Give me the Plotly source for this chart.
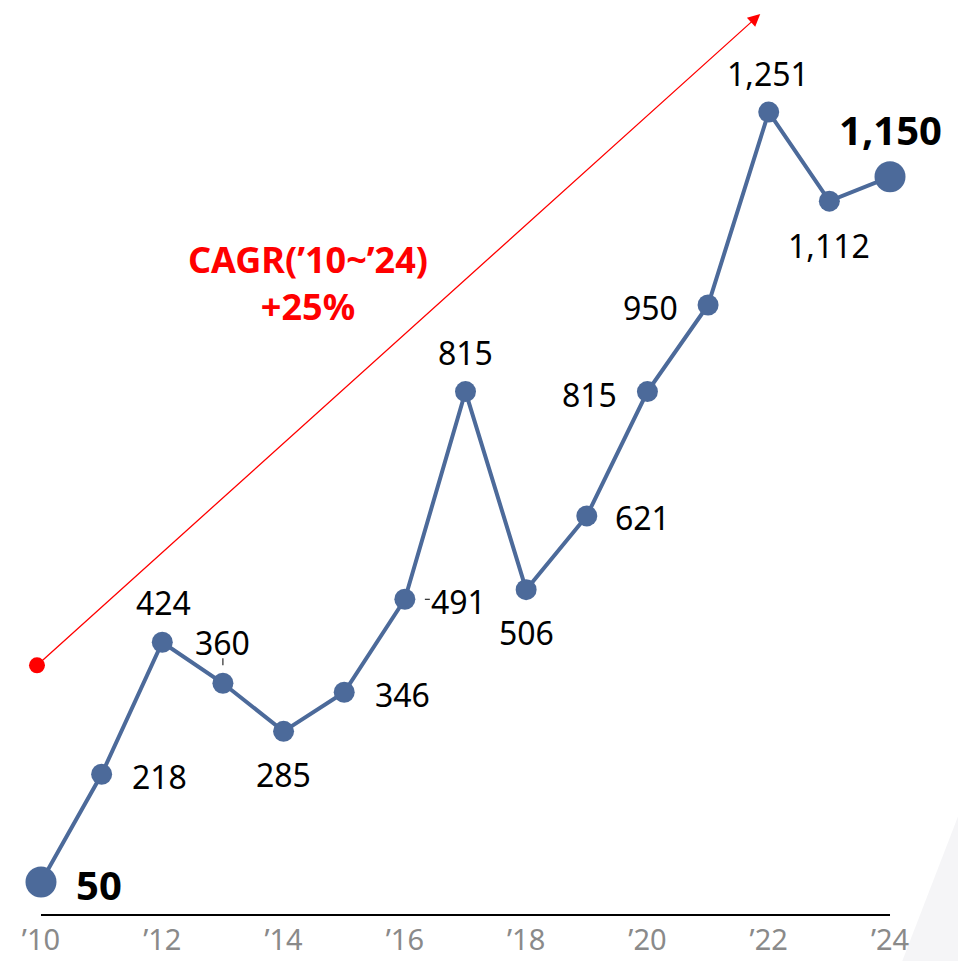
import plotly.graph_objects as go

# ---- data ----
years = [10, 11, 12, 13, 14, 15, 16, 17, 18, 19, 20, 21, 22, 23, 24]
values = [50, 218, 424, 360, 285, 346, 491, 815, 506, 621, 815, 950, 1251, 1112, 1150]
tick_years = [10, 12, 14, 16, 18, 20, 22, 24]
tick_labels = ["\u2019" + str(y) for y in tick_years]
cagr_text = "CAGR(\u201910~\u201924)<br>+25%"

# ---- label placement (pixel offsets: xshift, yshift) ----
label_offsets = [(58, -3), (58, -2), (1, 40), (0, 41), (0, -43), (58, -2), (54, -2),
                 (0, 39), (0, -43), (56, -2), (-58, -3), (-58, -2), (-1, 39), (0, -44), (0, 47)]
bold_idx = {0, len(values) - 1}

FONT = "Noto Sans"
BLUE = "#4c6a9a"

fig = go.Figure()

# CAGR trend arrow (start dot + arrow)
arrow_start = (9.934, 388)
arrow_end = (21.86, 1404)
fig.add_trace(go.Scatter(x=[arrow_start[0]], y=[arrow_start[1]], mode="markers",
                         marker=dict(color="#ff0000", size=16, opacity=1, line=dict(width=0)),
                         hoverinfo="skip", cliponaxis=False, showlegend=False))
fig.add_annotation(x=arrow_end[0], y=arrow_end[1], ax=arrow_start[0], ay=arrow_start[1],
                   xref="x", yref="y", axref="x", ayref="y", text="", showarrow=True,
                   arrowhead=2, arrowsize=1.9, arrowwidth=1.3, arrowcolor="#ff0000")

# main line
sizes = [31 if i in bold_idx else 21 for i in range(len(values))]
fig.add_trace(go.Scatter(x=years, y=values, mode="lines+markers",
                         line=dict(color=BLUE, width=4),
                         marker=dict(color=BLUE, size=sizes, opacity=1, line=dict(width=0)),
                         cliponaxis=False, showlegend=False, hoverinfo="skip"))

# data labels
for i, (yr, v) in enumerate(zip(years, values)):
    dx, dy = label_offsets[i]
    bold = i in bold_idx
    fig.add_annotation(x=yr, y=v, text=f"{v:,}", showarrow=False,
                       xshift=dx, yshift=dy, xanchor="center", yanchor="middle",
                       font=dict(family=FONT, size=40 if bold else 32, color="#000000",
                                 weight="bold" if bold else "normal"))

# small leader ticks next to two labels
leaders = [(3, (0, 0), (18, 25)), (6, (20, 25), (0, 0))]
for idx, (xa, xb), (ya, yb) in leaders:
    fig.add_shape(type="line", xref="x", yref="y", xsizemode="pixel", ysizemode="pixel",
                  xanchor=years[idx], yanchor=values[idx], x0=xa, x1=xb, y0=ya, y1=yb,
                  line=dict(color="#000000", width=1))

# CAGR text
PLOT_H = 907
fig.add_annotation(x=300 / 966, y=(PLOT_H - 275) / PLOT_H, xref="paper", yref="paper",
                   xanchor="center", yanchor="middle", text=cagr_text, showarrow=False,
                   font=dict(family=FONT, size=36, color="#ff0000", weight="bold"))

# baseline axis line
fig.add_shape(type="line", xref="x", yref="paper", x0=years[0], x1=years[-1], y0=0, y1=0,
              line=dict(color="#000000", width=2))

# faint decorative corner
fig.add_shape(type="path", xref="paper", yref="paper",
              path="M 0.9224 -0.06 L 1.0 0.1544 L 1.0 -0.06 Z",
              fillcolor="#f5f5f7", line=dict(width=0), layer="below")

fig.update_layout(
    width=966, height=961,
    margin=dict(l=0, r=0, t=0, b=961 - PLOT_H, pad=0),
    paper_bgcolor="white", plot_bgcolor="rgba(0,0,0,0)",
    xaxis=dict(range=[9.456, 25.385], tickmode="array", tickvals=tick_years,
               ticktext=tick_labels, showgrid=False, zeroline=False, showline=False,
               ticklabelstandoff=5,
               tickfont=dict(family=FONT, size=29, color="#8a8a8a"), fixedrange=True),
    yaxis=dict(range=[-1.5, 1413.3], visible=False, showgrid=False, zeroline=False,
               fixedrange=True),
    font=dict(family=FONT),
)

fig.write_html("out.html")
